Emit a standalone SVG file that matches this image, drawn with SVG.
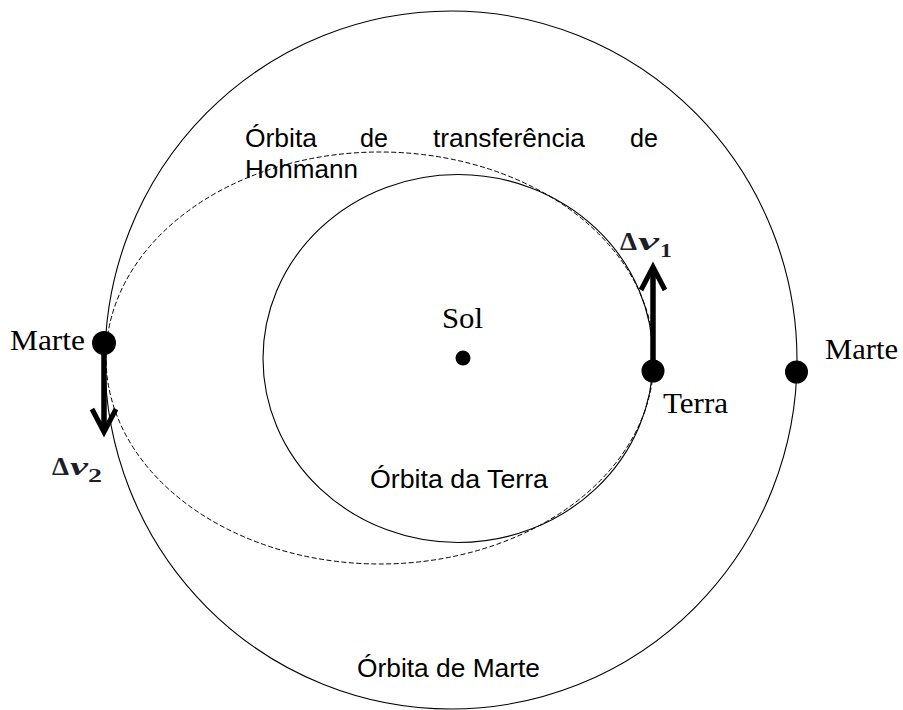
<svg xmlns="http://www.w3.org/2000/svg" width="903" height="710" viewBox="0 0 903 710">
  <defs>
    <marker id="chev" markerUnits="userSpaceOnUse" viewBox="-30 -16 38 32" markerWidth="38" markerHeight="32" refX="0" refY="0" orient="auto">
      <path d="M-23,-12 L0,0 L-23,12" fill="none" stroke="#000" stroke-width="5" stroke-linejoin="miter" stroke-miterlimit="10"/>
    </marker>
    <style>
      .orbit { fill: none; stroke: #000; stroke-width: 1.1; }
      .transfer { fill: none; stroke: #000; stroke-width: 1; stroke-dasharray: 5 2.5; }
      .dv { stroke: #000; stroke-width: 5.5; fill: none; marker-end: url(#chev); }
      .body { fill: #000; }
      .serif { font-family: "Liberation Serif", "Times New Roman", serif; font-size: 29px; fill: #000; }
      .sans { font-family: "Liberation Sans", Arial, sans-serif; font-size: 25.5px; fill: #000; }
      .math { font-family: "Liberation Serif", "Times New Roman", serif; font-weight: bold; fill: #1d1d2b; }
    </style>
  </defs>
  <rect width="903" height="710" fill="#fff"/>

  <g id="orbita-marte">
    <ellipse class="orbit" cx="451" cy="360" rx="346" ry="349"/>
    <text class="sans" x="357" y="677" textLength="183" lengthAdjust="spacingAndGlyphs">Órbita de Marte</text>
  </g>
  <g id="orbita-terra">
    <ellipse class="orbit" cx="458" cy="358.5" rx="195" ry="184"/>
    <text class="sans" x="370" y="488" textLength="178" lengthAdjust="spacingAndGlyphs">Órbita da Terra</text>
  </g>
  <g id="orbita-transferencia">
    <ellipse class="transfer" cx="380" cy="358" rx="274" ry="206"/>
    <text class="sans" x="245" y="147" textLength="72" lengthAdjust="spacingAndGlyphs">Órbita</text>
    <text class="sans" x="360" y="147" textLength="28" lengthAdjust="spacingAndGlyphs">de</text>
    <text class="sans" x="433" y="147" textLength="152" lengthAdjust="spacingAndGlyphs">transferência</text>
    <text class="sans" x="630" y="147" textLength="28" lengthAdjust="spacingAndGlyphs">de</text>
    <text class="sans" x="245" y="178" textLength="113" lengthAdjust="spacingAndGlyphs">Hohmann</text>
  </g>

  <g id="connectors">
    <line class="dv" x1="653" y1="365" x2="653" y2="267"/>
    <line class="dv" x1="104" y1="345" x2="104" y2="432"/>
  </g>

  <g id="sol">
    <circle class="body" cx="463" cy="358" r="7.5"/>
    <text class="serif" x="442" y="328" textLength="41" lengthAdjust="spacingAndGlyphs">Sol</text>
  </g>
  <g id="terra">
    <circle class="body" cx="653" cy="371" r="11.5"/>
    <text class="serif" x="663" y="413" textLength="65" lengthAdjust="spacingAndGlyphs">Terra</text>
  </g>
  <g id="marte-chegada">
    <circle class="body" cx="104" cy="343" r="12"/>
    <text class="serif" x="10" y="350" textLength="75" lengthAdjust="spacingAndGlyphs">Marte</text>
  </g>
  <g id="marte-partida">
    <circle class="body" cx="796.5" cy="372" r="11.5"/>
    <text class="serif" x="825" y="359" textLength="73" lengthAdjust="spacingAndGlyphs">Marte</text>
  </g>

  <g id="label-dv1">
    <text class="math" x="620" y="250" font-size="25" textLength="17" lengthAdjust="spacingAndGlyphs">Δ</text>
    <text class="math" x="638" y="250" font-size="26" font-style="italic" textLength="21" lengthAdjust="spacingAndGlyphs">v</text>
    <text class="math" x="660" y="257" font-size="19" textLength="12" lengthAdjust="spacingAndGlyphs">1</text>
  </g>
  <g id="label-dv2">
    <text class="math" x="52" y="475" font-size="25" textLength="17" lengthAdjust="spacingAndGlyphs">Δ</text>
    <text class="math" x="70" y="475" font-size="26" font-style="italic" textLength="18" lengthAdjust="spacingAndGlyphs">v</text>
    <text class="math" x="88" y="482" font-size="19" textLength="14" lengthAdjust="spacingAndGlyphs">2</text>
  </g>
</svg>
